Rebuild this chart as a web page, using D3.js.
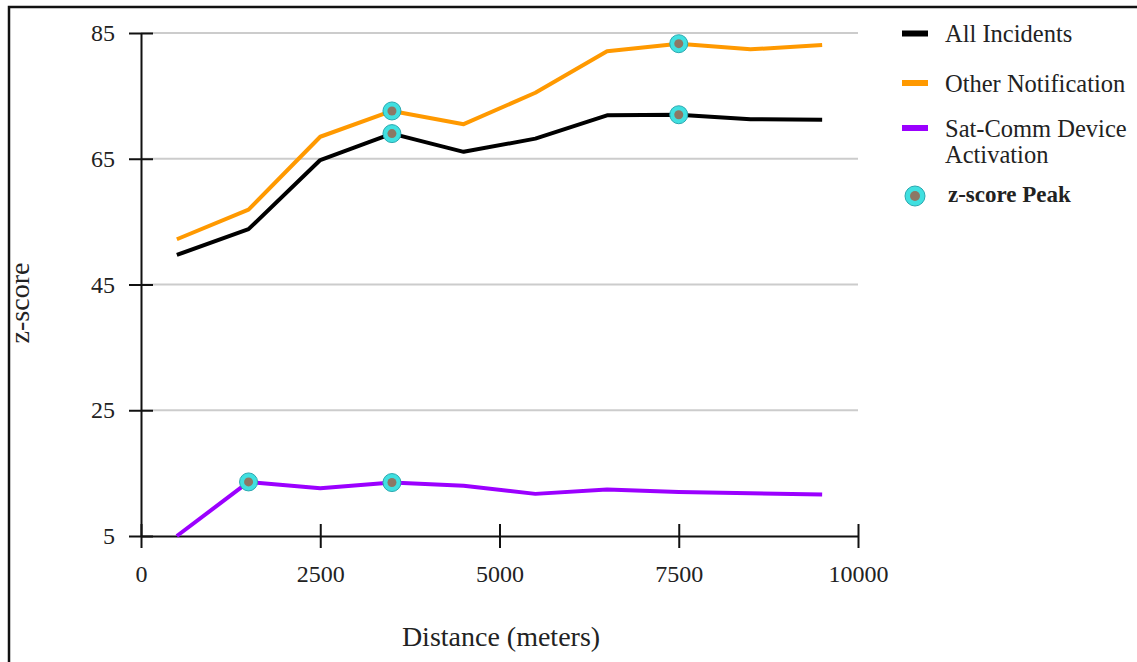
<!DOCTYPE html>
<html>
<head>
    <meta charset="utf-8">
    <script src="https://d3js.org/d3.v7.min.js"></script>
    <style>
        body { margin: 0; background: #fff; }
        text { font-family: "Liberation Serif", "Times New Roman", serif; fill: #222; }
    </style>
</head>
<body>
    <div id="chart"></div>
    <script type="text/javascript">
        // distances (meters) where each z-score was computed
        var distances = [500, 1500, 2500, 3500, 4500, 5500, 6500, 7500, 8500, 9500];
        var allIncidents = [49.7, 53.8, 64.8, 69.0, 66.1, 68.2, 71.9, 72.0, 71.3, 71.2];
        var otherNotification = [52.2, 56.9, 68.5, 72.6, 70.5, 75.5, 82.1, 83.3, 82.4, 83.1];
        var satComm = [5.0, 13.6, 12.6, 13.5, 13.0, 11.7, 12.4, 12.0, 11.8, 11.6];

        var xTicks = [0, 2500, 5000, 7500, 10000];
        var yTicks = [5, 25, 45, 65, 85];

        var seriesNames = ["All Incidents", "Other Notification", "Sat-Comm Device Activation"];
        var seriesColors = ["#000000", "#ff9900", "#9b00ff"];
        var seriesValues = [allIncidents, otherNotification, satComm];

        // peaks: series index + distance
        var peakSeries = [0, 0, 1, 1, 2, 2];
        var peakDistance = [3500, 7500, 3500, 7500, 1500, 3500];

        var W = 1137, H = 662;
        var serif = "'Liberation Serif', 'Times New Roman', serif";
        var svg = d3.select("#chart").append("svg")
            .attr("width", W)
            .attr("height", H);

        // outer frame (cut off at right/bottom like the screenshot)
        svg.append("rect")
            .attr("x", 9).attr("y", 7)
            .attr("width", W).attr("height", H)
            .attr("fill", "none")
            .attr("stroke", "#111")
            .attr("stroke-width", 2.5);

        var x = d3.scaleLinear().domain([0, 10000]).range([141, 858]);
        var y = d3.scaleLinear().domain([5, 85]).range([536, 33]);

        // grid lines
        svg.append("g").selectAll("line")
            .data(yTicks.filter(function (d) { return d !== 5; }))
            .enter().append("line")
            .attr("x1", x(0)).attr("x2", x(10000))
            .attr("y1", function (d) { return y(d); })
            .attr("y2", function (d) { return y(d); })
            .attr("stroke", "#cccccc")
            .attr("stroke-width", 2);

        // x axis, ticks crossing the line
        var xAxis = svg.append("g")
            .attr("transform", "translate(0," + y(5) + ")")
            .call(d3.axisBottom(x).tickValues(xTicks).tickFormat(d3.format("d"))
                .tickSize(12).tickSizeOuter(0).tickPadding(17));
        xAxis.attr("font-family", serif).attr("font-size", 24);
        xAxis.selectAll(".tick line").attr("y1", -12).attr("stroke-width", 2).attr("stroke", "#111");
        xAxis.select(".domain").attr("stroke-width", 2).attr("stroke", "#111");
        xAxis.selectAll("text").attr("fill", "#222");

        var yAxis = svg.append("g")
            .attr("transform", "translate(" + x(0) + ",0)")
            .call(d3.axisLeft(y).tickValues(yTicks)
                .tickSize(12).tickSizeOuter(0).tickPadding(14));
        yAxis.attr("font-family", serif).attr("font-size", 24);
        yAxis.selectAll(".tick line").attr("x1", 12).attr("stroke-width", 2).attr("stroke", "#111");
        yAxis.select(".domain").attr("stroke-width", 2).attr("stroke", "#111");
        yAxis.selectAll("text").attr("fill", "#222");

        // lines
        var line = d3.line()
            .x(function (d, i) { return x(distances[i]); })
            .y(function (d) { return y(d); });

        seriesValues.forEach(function (vals, k) {
            svg.append("path")
                .datum(vals)
                .attr("d", line)
                .attr("fill", "none")
                .attr("stroke", seriesColors[k])
                .attr("stroke-width", 4)
                .attr("stroke-linejoin", "round");
        });

        // peak markers
        var peaks = peakSeries.map(function (s, i) {
            var idx = distances.indexOf(peakDistance[i]);
            return { x: peakDistance[i], v: seriesValues[s][idx] };
        });
        var pk = svg.append("g").selectAll("g")
            .data(peaks).enter().append("g")
            .attr("transform", function (d) { return "translate(" + x(d.x) + "," + y(d.v) + ")"; });
        pk.append("circle").attr("r", 9).attr("fill", "#40e0e0").attr("stroke", "#2aa8b0").attr("stroke-width", 1);
        pk.append("circle").attr("r", 4.5).attr("fill", "#8c7865");

        // axis titles
        svg.append("text")
            .attr("x", 501).attr("y", 646)
            .attr("text-anchor", "middle")
            .style("font-size", "28px")
            .text("Distance (meters)");

        svg.append("text")
            .attr("transform", "translate(29,303) rotate(-90)")
            .attr("text-anchor", "middle")
            .style("font-size", "28px")
            .text("z-score");

        // legend
        var legendY = [33.5, 83, 128];
        var legendText = [["All Incidents"], ["Other Notification"], ["Sat-Comm Device", "Activation"]];
        legendY.forEach(function (ly, k) {
            svg.append("rect")
                .attr("x", 902).attr("y", ly - 3)
                .attr("width", 26).attr("height", 6)
                .attr("fill", seriesColors[k]);
            legendText[k].forEach(function (t, j) {
                svg.append("text")
                    .attr("x", 945).attr("y", ly + 8.5 + j * 26.5)
                    .style("font-size", "24.5px")
                    .text(t);
            });
        });
        svg.append("circle").attr("cx", 915).attr("cy", 196).attr("r", 10)
            .attr("fill", "#40e0e0").attr("stroke", "#2aa8b0").attr("stroke-width", 1);
        svg.append("circle").attr("cx", 915).attr("cy", 196).attr("r", 5).attr("fill", "#8c7865");
        svg.append("text")
            .attr("x", 948).attr("y", 202)
            .style("font-size", "23px")
            .style("font-weight", "bold")
            .attr("fill", "#111")
            .text("z-score Peak");
    </script>
</body>
</html>
